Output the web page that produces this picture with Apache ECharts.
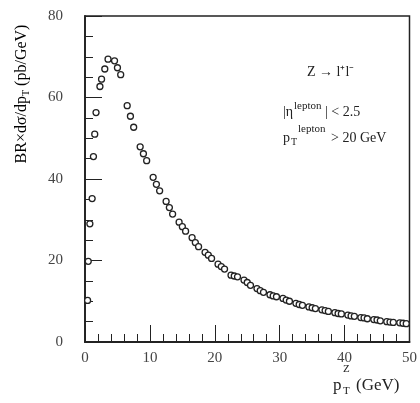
<!DOCTYPE html>
<html>
<head>
<meta charset="utf-8">
<title>Z pT spectrum</title>
<script src="https://cdn.jsdelivr.net/npm/echarts@6/dist/echarts.min.js"></script>
<style>
    html, body {margin: 0; padding: 0; background: #fff;}
    #main {width: 420px; height: 403px;}
</style>
</head>
<body>
<div id="main"></div>
<script>
/*数据部分*/
// pT^Z (GeV)
var ptValues = [0.4, 0.5, 0.75, 1.1, 1.3, 1.5, 1.7, 2.3, 2.55, 3.05, 3.55, 4.55, 5.0, 5.5,
    6.5, 7, 7.5, 8.5, 9, 9.5, 10.5, 11, 11.5, 12.5, 13, 13.5, 14.5, 15, 15.5,
    16.5, 17, 17.5, 18.5, 19, 19.5, 20.5, 21, 21.5, 22.5, 23, 23.5, 24.5, 25, 25.5,
    26.5, 27, 27.5, 28.5, 29, 29.5, 30.5, 31, 31.5, 32.5, 33, 33.5, 34.5, 35, 35.5,
    36.5, 37, 37.5, 38.5, 39, 39.5, 40.5, 41, 41.5, 42.5, 43, 43.5, 44.5, 45, 45.5,
    46.5, 47, 47.5, 48.5, 49, 49.5];
// BR x dsigma/dpT (pb/GeV)
var brValues = [10.2, 19.8, 29.0, 35.2, 45.5, 51.0, 56.3, 62.7, 64.5, 67.0, 69.4, 69.0, 67.3, 65.6,
    58.0, 55.4, 52.7, 47.9, 46.2, 44.5, 40.4, 38.7, 37.1, 34.5, 33.0, 31.4, 29.4, 28.3, 27.2,
    25.6, 24.4, 23.4, 22.0, 21.3, 20.5, 19.1, 18.5, 17.9, 16.4, 16.2, 16.0, 15.2, 14.6, 13.9,
    13.1, 12.6, 12.2, 11.6, 11.3, 11.1, 10.7, 10.3, 10.0, 9.5, 9.2, 9.0, 8.6, 8.4, 8.2,
    7.9, 7.7, 7.5, 7.2, 7.0, 6.9, 6.6, 6.4, 6.3, 6.0, 5.9, 5.7, 5.5, 5.4, 5.2,
    5.0, 4.9, 4.8, 4.7, 4.6, 4.5];
var xTicks = [0, 10, 20, 30, 40, 50];
var yTicks = [0, 20, 40, 60, 80];

var chart = echarts.init(document.getElementById('main'));
var font = 'Liberation Serif';
var ink = '#222';

//组装散点数据
var points = [];
for (var i = 0; i < ptValues.length; i++) {
    points.push([ptValues[i], brValues[i]]);
}

//通用坐标轴样式
function axisStyle(ticks, minorSplit) {
    return {
        type: 'value',
        min: ticks[0],
        max: ticks[ticks.length - 1],
        interval: ticks[1] - ticks[0],
        axisLine: {show: true, onZero: false, lineStyle: {color: ink, width: 1.8}},
        axisTick: {show: true, inside: true, length: 17, lineStyle: {color: ink, width: 1}},
        minorTick: {show: true, splitNumber: minorSplit, length: 8, lineStyle: {color: ink, width: 1}},
        splitLine: {show: false},
        axisLabel: {color: '#444', fontFamily: font, fontSize: 15}
    };
}

var xAxis = axisStyle(xTicks, 5);
xAxis.axisLabel.margin = 9;
var yAxis = axisStyle(yTicks, 4);
yAxis.axisLabel.margin = 22;

//文字标注
function txt(x, y, text, size, align) {
    return {
        type: 'text', x: x, y: y, silent: true,
        style: {text: text, fill: ink, font: size + 'px "' + font + '"',
            textAlign: align || 'left', textVerticalAlign: 'middle'}
    };
}

var option = {
    animation: false,
    backgroundColor: '#fff',
    grid: {left: 85, top: 16, width: 326, height: 326, show: true,
        borderColor: ink, borderWidth: 1.5, backgroundColor: 'transparent'},
    xAxis: xAxis,
    yAxis: yAxis,
    series: [{
        type: 'scatter',
        data: points,
        symbol: 'circle',
        symbolSize: 6,
        itemStyle: {color: '#fff', borderColor: '#222', borderWidth: 1.3, opacity: 1}
    }],
    graphic: [
        // y轴标题
        {
            type: 'text', x: 22, y: 94, rotation: Math.PI / 2, silent: true,
            style: {
                text: '{a|BR×dσ/dp}{s|T}{a| (pb/GeV)}',
                textAlign: 'center', textVerticalAlign: 'middle',
                rich: {
                    a: {fontFamily: font, fontSize: 16, color: ink, lineHeight: 19},
                    s: {fontFamily: font, fontSize: 10, color: ink, verticalAlign: 'bottom', lineHeight: 19}
                }
            }
        },
        // x轴标题
        txt(333, 386, 'p', 17),
        txt(343, 369, 'Z', 11),
        txt(343, 391, 'T', 11),
        txt(356, 386, '(GeV)', 17),
        // 图内说明
        txt(307, 72, 'Z → l⁺l⁻', 14),
        txt(283, 112, '|η', 14),
        txt(294, 106, 'lepton', 11),
        txt(325, 112, '| < 2.5', 14),
        txt(283, 138, 'p', 14),
        txt(291, 142, 'T', 10),
        txt(298, 129, 'lepton', 11),
        txt(331, 138, '> 20 GeV', 14)
    ]
};
chart.setOption(option);
</script>
</body>
</html>
